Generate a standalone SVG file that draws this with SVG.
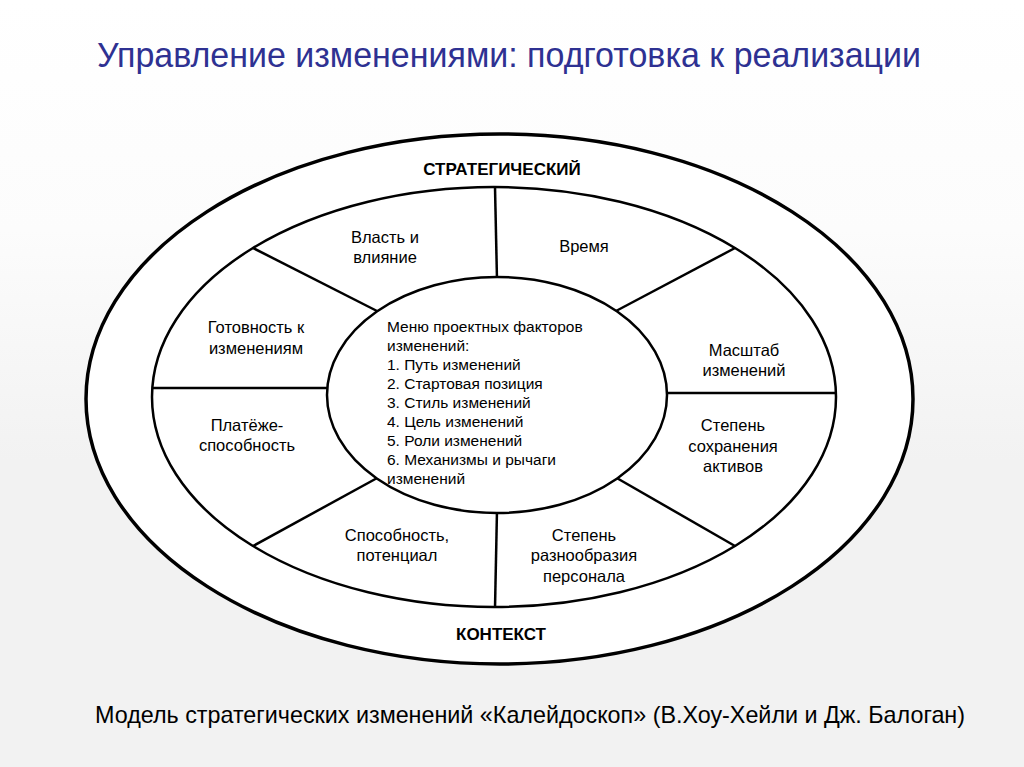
<svg xmlns="http://www.w3.org/2000/svg" width="1024" height="767" viewBox="0 0 1024 767">
<defs>
<linearGradient id="bg" x1="0" y1="0" x2="0" y2="1">
<stop offset="0" stop-color="#ffffff"/>
<stop offset="0.3" stop-color="#fcfcfc"/>
<stop offset="0.6" stop-color="#f2f2f2"/>
<stop offset="1" stop-color="#f2f2f2"/>
</linearGradient>
</defs>
<style>
.ring{fill:#ffffff;stroke:#000;}
.div{stroke:#000;stroke-width:2.5;fill:none;}
.lbl{font-family:"Liberation Sans",Arial,sans-serif;font-size:16.5px;fill:#000;text-anchor:middle;}
.menu{font-family:"Liberation Sans",Arial,sans-serif;font-size:15.5px;fill:#000;}
.bold{font-family:"Liberation Sans",Arial,sans-serif;font-size:17px;font-weight:bold;fill:#000;text-anchor:middle;}
</style>
<rect x="0" y="0" width="1024" height="767" fill="url(#bg)"/>
<text id="title" x="97" y="67" font-family="Liberation Sans, Arial, sans-serif" font-size="35" fill="#2e3192" textLength="824" lengthAdjust="spacingAndGlyphs">Управление изменениями: подготовка к реализации</text>

<g id="outer">
<ellipse class="ring" cx="499.5" cy="399" rx="413.5" ry="265" stroke-width="3.5"/>
<text class="bold" x="502" y="175">СТРАТЕГИЧЕСКИЙ</text>
<text class="bold" x="501" y="640">КОНТЕКСТ</text>
</g>
<g id="middle">
<ellipse class="ring" cx="494" cy="397" rx="342" ry="210" stroke-width="2.5"/>
</g>
<g id="connectors">
<line class="div" x1="495" y1="187" x2="497" y2="280"/>
<line class="div" x1="497" y1="510" x2="495" y2="608"/>
<line class="div" x1="152" y1="388" x2="330" y2="388"/>
<line class="div" x1="664" y1="393" x2="836" y2="393"/>
<line class="div" x1="253" y1="248" x2="379" y2="312"/>
<line class="div" x1="735" y1="248" x2="616" y2="311"/>
<line class="div" x1="379" y1="477" x2="253" y2="546"/>
<line class="div" x1="615" y1="477" x2="735" y2="546"/>
</g>
<g id="inner">
<ellipse class="ring" cx="497" cy="395" rx="170" ry="118" stroke-width="2.5"/>
<text class="menu" x="387">
<tspan x="387" y="332">Меню проектных факторов</tspan>
<tspan x="387" y="351">изменений:</tspan>
<tspan x="387" y="370">1. Путь изменений</tspan>
<tspan x="387" y="389">2. Стартовая позиция</tspan>
<tspan x="387" y="408">3. Стиль изменений</tspan>
<tspan x="387" y="427">4. Цель изменений</tspan>
<tspan x="387" y="446">5. Роли изменений</tspan>
<tspan x="387" y="465">6. Механизмы и рычаги</tspan>
<tspan x="387" y="484">изменений</tspan>
</text>
</g>
<g id="seg-power"><text class="lbl" x="385" y="243">Власть и</text><text class="lbl" x="385" y="263">влияние</text></g>
<g id="seg-time"><text class="lbl" x="584" y="252">Время</text></g>
<g id="seg-readiness"><text class="lbl" x="256" y="333">Готовность к</text><text class="lbl" x="256" y="354">изменениям</text></g>
<g id="seg-scale"><text class="lbl" x="744" y="356">Масштаб</text><text class="lbl" x="744" y="376">изменений</text></g>
<g id="seg-solvency"><text class="lbl" x="247" y="431">Платёже-</text><text class="lbl" x="247" y="451">способность</text></g>
<g id="seg-assets"><text class="lbl" x="733" y="431">Степень</text><text class="lbl" x="733" y="452">сохранения</text><text class="lbl" x="733" y="472">активов</text></g>
<g id="seg-capability"><text class="lbl" x="397" y="541">Способность,</text><text class="lbl" x="397" y="561">потенциал</text></g>
<g id="seg-diversity"><text class="lbl" x="584" y="541">Степень</text><text class="lbl" x="584" y="561">разнообразия</text><text class="lbl" x="584" y="582">персонала</text></g>

<text id="caption" x="95" y="723" font-family="Liberation Sans, Arial, sans-serif" font-size="24" fill="#000" textLength="870" lengthAdjust="spacingAndGlyphs">Модель стратегических изменений «Калейдоскоп» (В.Хоу-Хейли и Дж. Балоган)</text>
</svg>
